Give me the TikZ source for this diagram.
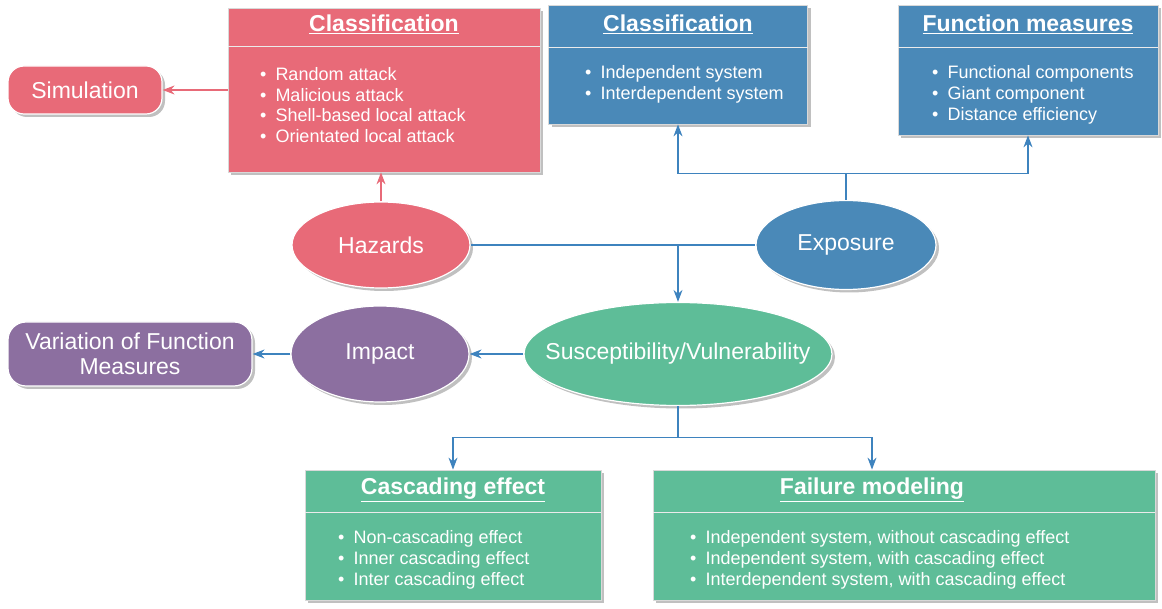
\documentclass[tikz,border=0pt]{standalone}
\usepackage{fontspec}
\setmainfont{Liberation Sans}
\usepackage{tikz}
\usetikzlibrary{positioning, shapes.geometric, shadows, arrows.meta}

\definecolor{hazred}{RGB}{232,106,120}
\definecolor{expblue}{RGB}{74,137,184}
\definecolor{susgreen}{RGB}{94,189,152}
\definecolor{imppurple}{RGB}{140,111,160}
\definecolor{lineblue}{RGB}{62,131,190}

\begin{document}
\begin{tikzpicture}[x=1pt, y=1pt,
    shade/.style = {drop shadow={shadow xshift=3pt, shadow yshift=-3pt, fill=black!45, opacity=0.55}},
    panel/.style = {rectangle, draw=white!85!black, line width=0.8pt, shade, inner sep=0pt},
    oval/.style = {ellipse, draw=white, line width=1.2pt, shade, inner sep=0pt,
        text=white, font=\fontsize{23}{26}\selectfont},
    pill/.style = {rectangle, rounded corners=16pt, draw=white, line width=1.2pt, shade,
        text=white, align=center, font=\fontsize{23}{25}\selectfont},
    head/.style = {text=white, font=\bfseries\fontsize{23}{26}\selectfont},
    items/.style = {anchor=west, text=white, align=left, inner sep=0pt,
        font=\fontsize{18}{20.8}\selectfont},
    divider/.style = {draw=white!92!black, line width=1.4pt},
    redarr/.style = {draw=hazred, line width=1.2pt, -{Stealth[length=12pt, width=9pt]}},
    bluearr/.style = {draw=lineblue, line width=1.2pt, -{Stealth[length=12pt, width=9pt]}},
    blueln/.style = {draw=lineblue, line width=1.2pt}]

    \useasboundingbox (0,0) rectangle (1162,-609);

    % hazards side
    \node[panel, fill=hazred, minimum width=312pt, minimum height=164pt] (hazcls) at (384,-90) {};
    \node[head] (hazhd) at ([yshift=-17pt]hazcls.north) {\underline{Classification}};
    \draw[divider] ([yshift=-39pt]hazcls.north west) -- ([yshift=-39pt]hazcls.north east);
    \node[items] (hazlist) at (260,-105) {•\hspace{9pt}Random attack\\ •\hspace{9pt}Malicious attack\\
        •\hspace{9pt}Shell-based local attack\\ •\hspace{9pt}Orientated local attack};
    \node[pill, fill=hazred, minimum width=154pt, minimum height=48pt] (sim) at (85,-90) {Simulation};
    \node[oval, fill=hazred, minimum width=178pt, minimum height=86pt] (haz) at (381,-245) {Hazards};

    % exposure side
    \node[panel, fill=expblue, minimum width=259pt, minimum height=119pt] (expcls) at (678,-64.5) {};
    \node[head] (exphd) at ([yshift=-20pt]expcls.north) {\underline{Classification}};
    \draw[divider] ([yshift=-43pt]expcls.north west) -- ([yshift=-43pt]expcls.north east);
    \node[items] (explist) at (585,-84.5) {•\hspace{9pt}Independent system\\ •\hspace{9pt}Interdependent system};
    \node[panel, fill=expblue, minimum width=260pt, minimum height=130pt] (funcm) at (1028,-70) {};
    \node[head] (funchd) at ([yshift=-20pt]funcm.north) {\underline{Function measures}};
    \draw[divider] ([yshift=-43pt]funcm.north west) -- ([yshift=-43pt]funcm.north east);
    \node[items] (funclist) at (932,-95) {•\hspace{9pt}Functional components\\ •\hspace{9pt}Giant component\\
        •\hspace{9pt}Distance efficiency};
    \node[oval, fill=expblue, minimum width=180pt, minimum height=89pt] (exp) at (846,-245) {Exposure};

    % middle row
    \node[oval, fill=susgreen, minimum width=308pt, minimum height=103pt] (sus) at (678,-354)
        {\makebox[0pt]{Susceptibility/Vulnerability}};
    \node[oval, fill=imppurple, minimum width=178pt, minimum height=96pt] (imp) at (380,-354) {Impact};
    \node[pill, fill=imppurple, rounded corners=18pt, minimum width=244pt, minimum height=64pt] (var) at (130,-354)
        {Variation of Function\\ Measures};

    % vulnerability side
    \node[panel, fill=susgreen, minimum width=296pt, minimum height=130pt] (casc) at (453,-535) {};
    \node[head] (caschd) at ([yshift=-20pt]casc.north) {\underline{Cascading effect}};
    \draw[divider] ([yshift=-43pt]casc.north west) -- ([yshift=-43pt]casc.north east);
    \node[items] (casclist) at (338,-560) {•\hspace{9pt}Non-cascading effect\\ •\hspace{9pt}Inner cascading effect\\
        •\hspace{9pt}Inter cascading effect};
    \node[panel, fill=susgreen, minimum width=502pt, minimum height=130pt] (fail) at (904,-535) {};
    \node[head] (failhd) at ([xshift=-32pt, yshift=-20pt]fail.north) {\underline{Failure modeling}};
    \draw[divider] ([yshift=-43pt]fail.north west) -- ([yshift=-43pt]fail.north east);
    \node[items] (faillist) at (690,-560) {•\hspace{9pt}Independent system, without cascading effect\\
        •\hspace{9pt}Independent system, with cascading effect\\
        •\hspace{9pt}Interdependent system, with cascading effect};

    % connectors
    \coordinate (join) at (sus.north |- haz.east);
    \draw[redarr] (hazcls.west) -- (sim.east);
    \draw[redarr] (haz.north) -- (haz.north |- hazcls.south);
    \draw[blueln] (haz.east) -- (exp.west);
    \draw[bluearr] (join) -- (sus.north);
    \draw[bluearr] (exp.north) -- ++(0,26) -| (expcls.south);
    \draw[bluearr] (exp.north) -- ++(0,26) -| (funcm.south);
    \draw[bluearr] (sus.west) -- (imp.east);
    \draw[bluearr] (imp.west) -- (var.east);
    \draw[bluearr] (sus.south) -- ++(0,-31) -| (casc.north);
    \draw[bluearr] (sus.south) -- ++(0,-31) -| (failhd |- fail.north);
\end{tikzpicture}
\end{document}
